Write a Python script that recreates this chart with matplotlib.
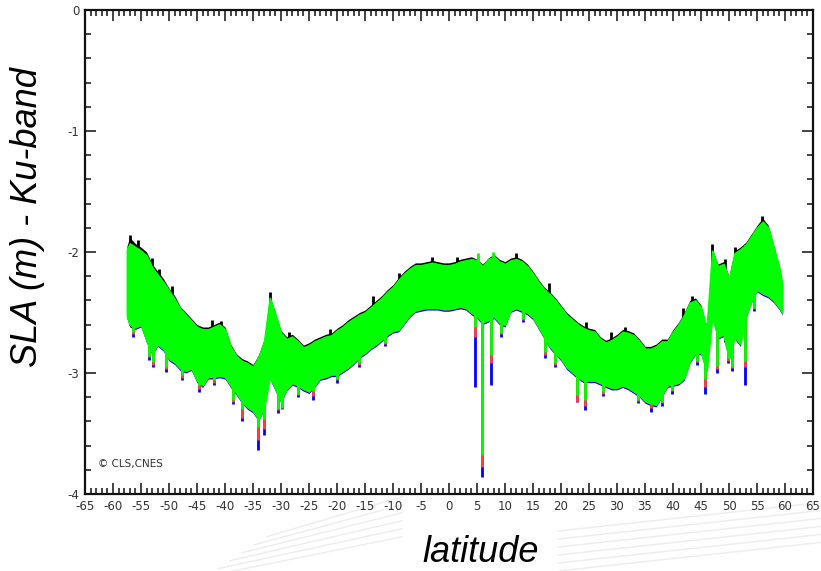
import matplotlib
matplotlib.use("Agg")
import matplotlib.pyplot as plt
from matplotlib.ticker import MultipleLocator
from matplotlib.lines import Line2D
import numpy as np

plt.rcParams["axes.unicode_minus"] = False

# envelope of the along-track SLA, read every degree of latitude
lat = [-57.5, -57, -56, -55, -54, -53, -52, -51, -50, -49, -48, -47, -46, -45,
       -44, -43, -42, -41, -40, -39, -38, -37, -36, -35, -34, -33, -32, -31,
       -30, -29, -28, -27, -26, -25, -24, -23, -22, -21, -20, -19, -18, -17,
       -16, -15, -14, -13, -12, -11, -10, -9, -8, -7, -6, -5, -4, -3, -2, -1,
       0, 1, 2, 3, 4, 5, 6, 7, 8, 9, 10, 11, 12, 13, 14, 15, 16, 17, 18, 19,
       20, 21, 22, 23, 24, 25, 26, 27, 28, 29, 30, 31, 32, 33, 34, 35, 36, 37,
       38, 39, 40, 41, 42, 43, 44, 45, 46, 47, 48, 49, 50, 51, 52, 53, 54, 55,
       56, 57, 58, 59, 59.5]

sla_black_max = [-1.95, -1.88, -1.93, -1.96, -2.00, -2.10, -2.16, -2.22, -2.30, -2.36,
                 -2.45, -2.50, -2.55, -2.60, -2.62, -2.62, -2.60, -2.58, -2.62, -2.76,
                 -2.84, -2.88, -2.90, -2.93, -2.85, -2.72, -2.36, -2.50, -2.65, -2.70,
                 -2.68, -2.72, -2.77, -2.75, -2.72, -2.70, -2.68, -2.67, -2.63, -2.60,
                 -2.56, -2.53, -2.50, -2.48, -2.44, -2.40, -2.36, -2.31, -2.27, -2.21,
                 -2.16, -2.12, -2.09, -2.09, -2.08, -2.07, -2.08, -2.09, -2.09, -2.08,
                 -2.06, -2.05, -2.04, -2.06, -2.10, -2.05, -2.02, -2.06, -2.08, -2.05,
                 -2.04, -2.06, -2.10, -2.16, -2.23, -2.29, -2.33, -2.38, -2.44, -2.50,
                 -2.54, -2.58, -2.61, -2.63, -2.64, -2.70, -2.73, -2.71, -2.68, -2.64,
                 -2.65, -2.67, -2.72, -2.78, -2.78, -2.76, -2.72, -2.72, -2.64, -2.58,
                 -2.50, -2.40, -2.38, -2.44, -2.62, -1.97, -2.10, -2.08, -2.20, -1.99,
                 -1.96, -1.92, -1.85, -1.78, -1.72, -1.78, -1.95, -2.12, -2.25]

sla_green_max = [-1.98, -1.93, -1.96, -1.99, -2.03, -2.13, -2.19, -2.25, -2.32, -2.39,
                 -2.47, -2.52, -2.57, -2.62, -2.64, -2.64, -2.62, -2.60, -2.64, -2.78,
                 -2.86, -2.90, -2.92, -2.95, -2.87, -2.74, -2.38, -2.52, -2.67, -2.72,
                 -2.70, -2.74, -2.79, -2.77, -2.74, -2.72, -2.70, -2.69, -2.65, -2.62,
                 -2.58, -2.55, -2.52, -2.50, -2.46, -2.42, -2.38, -2.33, -2.29, -2.23,
                 -2.18, -2.14, -2.11, -2.11, -2.10, -2.09, -2.10, -2.11, -2.11, -2.10,
                 -2.08, -2.07, -2.06, -2.07, -2.12, -2.06, -2.04, -2.08, -2.10, -2.07,
                 -2.06, -2.08, -2.12, -2.18, -2.25, -2.31, -2.35, -2.40, -2.46, -2.52,
                 -2.56, -2.60, -2.63, -2.65, -2.66, -2.72, -2.75, -2.73, -2.70, -2.66,
                 -2.67, -2.69, -2.74, -2.80, -2.80, -2.78, -2.74, -2.74, -2.66, -2.60,
                 -2.52, -2.42, -2.40, -2.46, -2.64, -1.99, -2.12, -2.10, -2.22, -2.01,
                 -1.98, -1.94, -1.87, -1.80, -1.75, -1.80, -1.97, -2.14, -2.27]

sla_green_min = [-2.53, -2.60, -2.62, -2.60, -2.73, -2.83, -2.76, -2.80, -2.88, -2.91,
                 -2.96, -2.98, -2.96, -3.06, -3.10, -3.03, -3.03, -3.02, -3.03, -3.10,
                 -3.16, -3.23, -3.28, -3.31, -3.38, -3.28, -3.03, -3.13, -3.23, -3.13,
                 -3.08, -3.10, -3.13, -3.15, -3.10, -3.04, -3.03, -3.01, -3.01, -2.98,
                 -2.95, -2.91, -2.86, -2.83, -2.79, -2.76, -2.72, -2.68, -2.65, -2.64,
                 -2.58, -2.52, -2.48, -2.47, -2.46, -2.46, -2.46, -2.47, -2.47, -2.46,
                 -2.45, -2.46, -2.50, -2.53, -2.58, -2.56, -2.53, -2.58, -2.60, -2.48,
                 -2.46, -2.48, -2.50, -2.54, -2.62, -2.70, -2.78, -2.83, -2.88, -2.95,
                 -2.99, -3.03, -3.06, -3.06, -3.06, -3.08, -3.10, -3.12, -3.12, -3.10,
                 -3.12, -3.15, -3.18, -3.23, -3.25, -3.26, -3.18, -3.10, -3.09, -3.08,
                 -3.04, -2.90, -2.83, -2.83, -2.98, -2.53, -2.70, -2.68, -2.88, -2.70,
                 -2.76, -2.53, -2.40, -2.31, -2.34, -2.36, -2.40, -2.46, -2.50]

sla_red_min = [-2.54, -2.61, -2.63, -2.61, -2.74, -2.84, -2.77, -2.81, -2.89, -2.92,
               -2.97, -2.99, -2.97, -3.07, -3.11, -3.04, -3.04, -3.03, -3.04, -3.11,
               -3.17, -3.24, -3.29, -3.32, -3.39, -3.29, -3.04, -3.14, -3.24, -3.14,
               -3.09, -3.11, -3.14, -3.16, -3.11, -3.05, -3.04, -3.02, -3.02, -2.99,
               -2.96, -2.92, -2.87, -2.84, -2.80, -2.77, -2.73, -2.69, -2.66, -2.65,
               -2.59, -2.53, -2.49, -2.48, -2.47, -2.47, -2.47, -2.48, -2.48, -2.47,
               -2.46, -2.47, -2.51, -2.54, -2.59, -2.57, -2.54, -2.59, -2.61, -2.49,
               -2.47, -2.49, -2.51, -2.55, -2.63, -2.71, -2.79, -2.84, -2.89, -2.96,
               -3.00, -3.04, -3.07, -3.07, -3.07, -3.09, -3.11, -3.13, -3.13, -3.11,
               -3.13, -3.16, -3.19, -3.24, -3.26, -3.27, -3.19, -3.11, -3.10, -3.09,
               -3.05, -2.91, -2.84, -2.84, -2.99, -2.54, -2.71, -2.69, -2.89, -2.71,
               -2.77, -2.54, -2.41, -2.32, -2.35, -2.37, -2.41, -2.47, -2.51]

sla_blue_min = [-2.55, -2.62, -2.64, -2.62, -2.75, -2.85, -2.78, -2.82, -2.90, -2.93,
                -2.98, -3.00, -2.98, -3.08, -3.12, -3.05, -3.05, -3.04, -3.05, -3.12,
                -3.18, -3.25, -3.30, -3.33, -3.40, -3.30, -3.05, -3.15, -3.25, -3.15,
                -3.10, -3.12, -3.15, -3.17, -3.12, -3.06, -3.05, -3.03, -3.03, -3.00,
                -2.97, -2.93, -2.88, -2.85, -2.81, -2.78, -2.74, -2.70, -2.67, -2.66,
                -2.60, -2.54, -2.50, -2.49, -2.48, -2.48, -2.48, -2.49, -2.49, -2.48,
                -2.47, -2.48, -2.52, -2.55, -2.60, -2.58, -2.55, -2.60, -2.62, -2.50,
                -2.48, -2.50, -2.52, -2.56, -2.64, -2.72, -2.80, -2.85, -2.90, -2.97,
                -3.01, -3.05, -3.08, -3.08, -3.08, -3.10, -3.12, -3.14, -3.14, -3.12,
                -3.14, -3.17, -3.20, -3.25, -3.27, -3.28, -3.20, -3.12, -3.11, -3.10,
                -3.06, -2.92, -2.85, -2.85, -3.00, -2.55, -2.72, -2.70, -2.90, -2.72,
                -2.78, -2.55, -2.42, -2.33, -2.36, -2.38, -2.42, -2.48, -2.52]

# isolated downward spikes (lowest value reached by each series)
spike_lat = [-56.4, -53.5, -52.8, -50.5, -47.6, -44.6, -42.0, -38.5, -37.0, -34.1,
             -33.0, -30.5, -29.8, -27.0, -24.3, -20.0, -16.0, -11.5, 4.6, 5.9,
             7.5, 9.3, 13.3, 17.1, 19.0, 22.9, 24.3, 27.5, 33.8, 36.0, 38.0, 39.8,
             44.3, 45.7, 47.9, 49.8, 50.5, 52.9, 54.5]
spike_blue = [-2.70, -2.89, -2.95, -2.99, -3.06, -3.16, -3.10, -3.26, -3.40, -3.64,
              -3.51, -3.33, -3.30, -3.20, -3.22, -3.08, -2.95, -2.78, -3.12, -3.86,
              -3.10, -2.70, -2.58, -2.88, -2.95, -3.24, -3.31, -3.19, -3.25, -3.32,
              -3.27, -3.17, -2.93, -3.17, -3.00, -2.92, -2.98, -3.10, -2.49]
spike_red = [-2.68, -2.87, -2.93, -2.97, -3.04, -3.13, -3.08, -3.24, -3.37, -3.55,
             -3.46, -3.31, -3.29, -3.18, -3.19, -3.06, -2.93, -2.76, -2.70, -3.78,
             -2.92, -2.68, -2.56, -2.85, -2.93, -3.24, -3.27, -3.17, -3.23, -3.29,
             -3.25, -3.15, -2.91, -3.12, -2.97, -2.90, -2.96, -2.95, -2.47]
spike_green = [-2.66, -2.86, -2.91, -2.95, -3.02, -3.10, -3.06, -3.22, -3.30, -3.45,
               -3.38, -3.30, -3.29, -3.17, -3.15, -3.05, -2.92, -2.75, -2.62, -3.68,
               -2.85, -2.67, -2.55, -2.83, -2.92, -3.18, -3.22, -3.16, -3.22, -3.25,
               -3.24, -3.14, -2.90, -3.05, -2.94, -2.88, -2.95, -2.90, -2.46]

# upward peaks of the black series and of the green one
peak_lat = [-56.9, -55.5, -53.0, -51.8, -49.5, -42.4, -40.7, -31.9, -28.5, -21.3,
            -13.5, -9.0, -3.0, 1.5, 12.0, 17.8, 24.5, 29.0, 31.5, 41.8, 43.4,
            47.0, 49.3, 51.1, 55.9]
peak_black = [-1.86, -1.90, -2.05, -2.14, -2.28, -2.56, -2.57, -2.33, -2.66, -2.64,
              -2.36, -2.17, -2.04, -2.04, -2.01, -2.26, -2.58, -2.66, -2.62, -2.46,
              -2.36, -1.93, -2.06, -1.96, -1.70]
green_peak_lat = [5.2, 7.8]
green_peak = [-2.01, -2.00]

fig = plt.figure(figsize=(8.21, 5.71), dpi=100)
ax = fig.add_axes([0.1035, 0.1349, 0.8868, 0.8476])

# faint background swooshes
for i in range(6):
    dy = i * 0.014
    fig.add_artist(Line2D([0.25 + i * 0.015, 0.49], [0.0 + dy - 0.01, 0.06 + dy],
                          transform=fig.transFigure, color="#ededed", lw=1.0, zorder=-5))
    fig.add_artist(Line2D([0.68, 1.0], [0.0 + dy, 0.05 + dy],
                          transform=fig.transFigure, color="#ededed", lw=1.0, zorder=-5))

spike_top = np.interp(spike_lat, lat, sla_green_max)
peak_base = np.interp(peak_lat, lat, sla_green_min)
green_peak_base = np.interp(green_peak_lat, lat, sla_green_min)

ax.fill_between(lat, sla_black_max, sla_green_min, color="black", lw=0, zorder=1)
ax.vlines(peak_lat, peak_black, peak_base, color="black", lw=2.0, zorder=1)
ax.fill_between(lat, sla_green_max, sla_blue_min, color="#0000ff", lw=0, zorder=2)
ax.vlines(spike_lat, spike_blue, spike_top, color="#0000ff", lw=2.0, zorder=2)
ax.fill_between(lat, sla_green_max, sla_red_min, color="#ff4040", lw=0, zorder=3)
ax.vlines(spike_lat, spike_red, spike_top, color="#ff4040", lw=2.0, zorder=3)
ax.fill_between(lat, sla_green_max, sla_green_min, facecolor="#00ff00",
                edgecolor="#00ff00", lw=1.3, zorder=4)
ax.vlines(spike_lat, spike_green, spike_top, color="#00ff00", lw=2.0, zorder=4)
ax.vlines(green_peak_lat, green_peak, green_peak_base, color="#00ff00", lw=2.0, zorder=4)

ax.set_xlim(-65, 65)
ax.set_ylim(-4, 0)
ax.xaxis.set_major_locator(MultipleLocator(5))
ax.xaxis.set_minor_locator(MultipleLocator(1))
ax.yaxis.set_major_locator(MultipleLocator(1))
ax.yaxis.set_minor_locator(MultipleLocator(0.2))
ax.tick_params(which="both", direction="in", top=True, right=True,
               width=1.1, colors="#111111", labelcolor="#333333", labelsize=8.5)
ax.tick_params(which="major", length=8)
ax.tick_params(which="minor", length=4.5)
ax.tick_params(axis="x", pad=4)
ax.tick_params(axis="y", pad=4)
for s in ax.spines.values():
    s.set_linewidth(1.6)
    s.set_color("#111111")

ax.text(0.018, 0.055, "\u00a9 CLS,CNES", transform=ax.transAxes, fontsize=7.5,
        color="#333333", family="DejaVu Sans")

fig.text(0.034, 0.62, "SLA (m) - Ku-band", rotation=90, ha="center", va="center",
         fontsize=26, style="italic", family="Liberation Sans")
fig.text(0.586, 0.032, "latitude", ha="center", va="center", fontsize=26,
         style="italic", family="Liberation Sans",
         bbox=dict(facecolor="white", edgecolor="none", pad=2))

fig.savefig("out.png", dpi=100)
